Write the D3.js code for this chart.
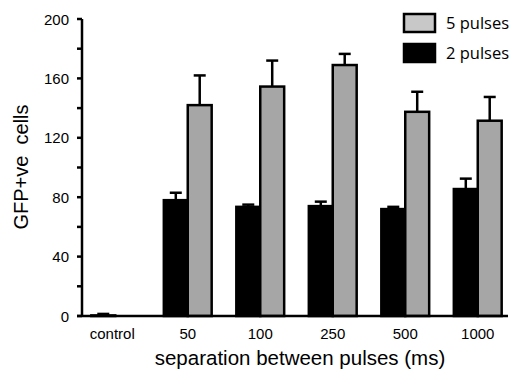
<!DOCTYPE html>
<html>
<head>
<meta charset="utf-8">
<script src="https://cdn.jsdelivr.net/npm/d3@7"></script>
<style>
  body { margin: 0; background: #fff; }
  svg { display: block; }
</style>
</head>
<body>
<script>
// -- data --
var categories = ["control", "50", "100", "250", "500", "1000"];
var series = ["2 pulses", "5 pulses"];
var twoPulses = [0.4, 78, 73.5, 74, 72, 85.5];
var twoPulsesErr = [1, 5, 1.5, 3, 1.5, 7];
var fivePulses = [null, 142, 154.5, 169, 137.5, 131.5];
var fivePulsesErr = [null, 20, 17.5, 7.5, 13.5, 16];
var yTicks = [0, 40, 80, 120, 160, 200];
var yMinor = [20, 60, 100, 140, 180];

var width = 514, height = 372;
var sw = 2.5;
var font = "'Liberation Sans', Arial, sans-serif";
var fills = { "2 pulses": "#000000", "5 pulses": "#a6a6a6" };

var svg = d3.select("body").append("svg")
    .attr("width", width)
    .attr("height", height);

var y = d3.scaleLinear().domain([0, 200]).range([316, 19]);

var x0 = d3.scaleBand().domain(categories)
    .range([79, 514])
    .paddingInner(0.34)
    .paddingOuter(0.17);

var x1 = d3.scaleBand().domain(series)
    .range([0, x0.bandwidth()]);

var rows = categories.map(function (c, i) {
    return [
        { cat: c, s: "2 pulses", v: twoPulses[i], e: twoPulsesErr[i] },
        { cat: c, s: "5 pulses", v: fivePulses[i], e: fivePulsesErr[i] }
    ].filter(function (d) { return d.v !== null; });
});
var bars = [].concat.apply([], rows);

// error bars (drawn first, bar covers lower part)
var eb = svg.append("g")
    .style("stroke", "black")
    .style("stroke-width", sw);

bars.forEach(function (d) {
    var cx = x0(d.cat) + x1(d.s) + x1.bandwidth() / 2;
    eb.append("line")
        .attr("x1", cx).attr("x2", cx)
        .attr("y1", y(d.v)).attr("y2", y(d.v + d.e));
    eb.append("line")
        .attr("x1", cx - 6).attr("x2", cx + 6)
        .attr("y1", y(d.v + d.e)).attr("y2", y(d.v + d.e));
});

// bars
svg.append("g").selectAll("rect")
    .data(bars)
    .enter().append("rect")
    .attr("x", function (d) { return x0(d.cat) + x1(d.s); })
    .attr("y", function (d) { return y(d.v); })
    .attr("width", x1.bandwidth())
    .attr("height", function (d) { return y(0) - y(d.v); })
    .style("fill", function (d) { return fills[d.s]; })
    .style("stroke", "black")
    .style("stroke-width", sw);

// y axis
var ya = svg.append("g").style("stroke", "black").style("stroke-width", sw);
ya.append("line")
    .attr("x1", 82).attr("x2", 82)
    .attr("y1", y(200)).attr("y2", y(0));
yTicks.concat(yMinor).forEach(function (t) {
    ya.append("line")
        .attr("x1", 77).attr("x2", 82)
        .attr("y1", y(t)).attr("y2", y(t));
});

svg.append("g").selectAll("text")
    .data(yTicks)
    .enter().append("text")
    .attr("x", 69)
    .attr("y", function (d) { return y(d) + 5.5; })
    .attr("text-anchor", "end")
    .attr("font-family", font)
    .attr("font-size", "15px")
    .text(function (d) { return d; });

// x axis
svg.append("line")
    .attr("x1", 77).attr("x2", 508)
    .attr("y1", y(0)).attr("y2", y(0))
    .style("stroke", "black")
    .style("stroke-width", sw);

svg.append("g").selectAll("text")
    .data(categories)
    .enter().append("text")
    .attr("x", function (d) { return x0(d) + x0.bandwidth() / 2 - (d == "control" ? 3 : 0); })
    .attr("y", 339)
    .attr("text-anchor", "middle")
    .attr("font-family", font)
    .attr("font-size", "15px")
    .text(function (d) { return d; });

// titles
svg.append("text")
    .attr("x", 300).attr("y", 365)
    .attr("text-anchor", "middle")
    .attr("font-family", font)
    .attr("font-size", "20.5px")
    .text("separation between pulses (ms)");

svg.append("text")
    .attr("transform", "translate(28,167) rotate(-90)")
    .attr("text-anchor", "middle")
    .attr("font-family", font)
    .attr("font-size", "20px")
    .style("white-space", "pre")
    .text("GFP+ve  cells");

// legend
var legend = svg.append("g");
["5 pulses", "2 pulses"].forEach(function (s, i) {
    legend.append("rect")
        .attr("x", 404).attr("y", 14 + i * 30)
        .attr("width", 31).attr("height", 18)
        .style("fill", s == "5 pulses" ? "#c8c8c8" : "black")
        .style("stroke", "black")
        .style("stroke-width", sw);
    legend.append("text")
        .attr("x", 446).attr("y", 29 + i * 30)
        .attr("font-family", "'Open Sans', sans-serif")
        .attr("font-size", "16.5px")
        .text(s);
});
</script>
</body>
</html>
